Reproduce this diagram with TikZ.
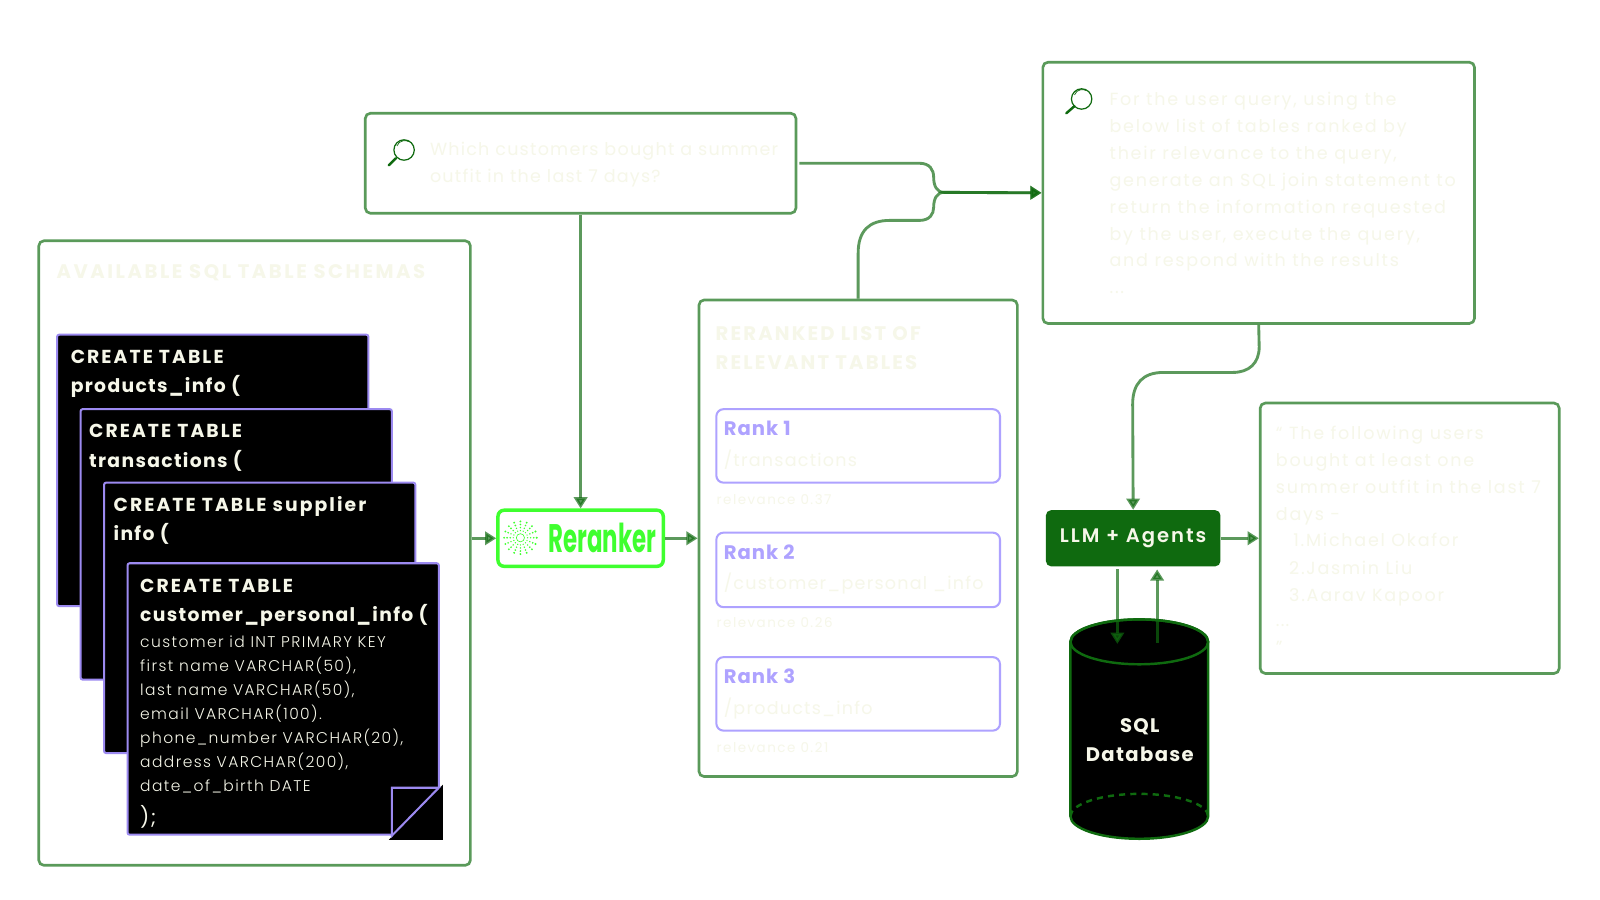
\documentclass[tikz,border=0pt]{standalone}
\usepackage{fontspec}
\usepackage{graphicx}
\usetikzlibrary{arrows.meta,fit,calc}
\newfontfamily\hdf[LetterSpace=11]{Poppins}
\newfontfamily\ttlf[LetterSpace=13]{Poppins}
\newfontfamily\lowf[LetterSpace=7]{Poppins}
\newfontfamily\rkf[LetterSpace=5]{Poppins}
\newfontfamily\bdf[LetterSpace=7]{Poppins}
\newfontfamily\prf[LetterSpace=10]{Poppins}
\newfontfamily\cdf[LetterSpace=9]{Poppins Light}
\newfontfamily\smf[LetterSpace=11]{Poppins}
\newfontfamily\medf[LetterSpace=10]{Poppins SemiBold}
\newfontfamily\plf{Poppins}
\definecolor{flow}{HTML}{0F6A0F}
\definecolor{boxgreen}{HTML}{5A9A5A}
\definecolor{ivory}{HTML}{F6F7E9}
\definecolor{cardedge}{HTML}{9C8AF0}
\definecolor{rankedge}{HTML}{AEA2FF}
\definecolor{neon}{HTML}{3FFF2F}
\tikzset{
  gbox/.style={draw=boxgreen,line width=1.3pt,rounded corners=2.5pt,inner sep=0pt,fill=white},
  rankbox/.style={draw=rankedge,line width=1pt,rounded corners=3.5pt,inner sep=0pt,fill=white},
  card/.style={draw=cardedge,line width=1pt,rounded corners=1pt,inner sep=0pt,fill=black},
  txt/.style={anchor=base west,inner sep=0pt,align=left},
  hcard/.style={txt,text=ivory,font={\hdf\bfseries\fontsize{9.2}{14.4}\selectfont}},
  bcard/.style={txt,text=ivory,font={\cdf\fontsize{7.6}{11.8}\selectfont}},
  ghosthead/.style={txt,text=ivory,font={\hdf\bfseries\fontsize{9.6}{14.4}\selectfont}},
  ghost/.style={txt,text=ivory,font={\bdf\fontsize{8.6}{13.2}\selectfont}},
  ghostwide/.style={txt,text=ivory,font={\prf\fontsize{8.6}{13.2}\selectfont}},
  ghostsmall/.style={txt,text=ivory,font={\smf\fontsize{6.6}{8}\selectfont}},
  ranklab/.style={txt,text=rankedge,font={\rkf\bfseries\fontsize{9.6}{12}\selectfont}},
  flowline/.style={draw=flow,line width=1.4pt,draw opacity=.68,fill opacity=.68,
    -{Triangle[length=5.5pt,width=6.5pt]}},
  lens/.style={draw=flow,line width=.6pt},
  lenshandle/.style={draw=flow,line width=1.2pt,line cap=round},
  dbline/.style={draw=flow,line width=1.2pt},
}
\begin{document}
\begin{tikzpicture}[x=.5pt,y=-.5pt]
\useasboundingbox[fill=white] (0,0) rectangle (1568,882);

% main boxes
\node[gbox,fit={(38,236)(461,848)}] (schemas) {};
\node[gbox,fit={(358,111)(780,209)}] (query) {};
\node[gbox,fit={(1022,61)(1445,317)}] (prompt) {};
\node[gbox,fit={(685,294)(997,761)}] (ranked) {};
\node[gbox,fit={(1235,395)(1528,660)}] (result) {};
\node[draw=neon,line width=1.7pt,rounded corners=3pt,inner sep=0pt,fill=white,fit={(488,500)(650,555)}] (rerank) {};
\node[fill=flow,rounded corners=2.5pt,inner sep=0pt,fit={(1025,500)(1196,555)}] (llm) {};

% schema title
\node[ghosthead,font={\ttlf\bfseries\fontsize{9.6}{14.4}\selectfont}] (schematitle) at (55,273) {AVAILABLE SQL TABLE SCHEMAS};

% cards
\node[card,fit={(56,328)(361,594)}] (card1) {};
\node[hcard] (card1t) at (69,385) {CREATE TABLE\\{\lowf products\_info (}};
\node[card,fit={(79,401)(384,666)}] (card2) {};
\node[hcard] (card2t) at (87,458) {CREATE TABLE\\{\lowf transactions (}};
\node[card,fit={(102,473)(407,738)}] (card3) {};
\node[hcard] (card3t) at (111,530) {CREATE TABLE supplier\\{\lowf info (}};
\node[card,fit={(125,552)(430,818)}] (card4) {};
\node[hcard] (card4t) at (137,609) {CREATE TABLE\\{\lowf customer\_personal\_info (}};
\node[bcard] (card4b) at (137,776) {customer id INT PRIMARY KEY\\first name VARCHAR(50),\\last name VARCHAR(50),\\email VARCHAR(100).\\phone\_number VARCHAR(20),\\address VARCHAR(200),\\date\_of\_birth DATE};
\node[txt,text=ivory,font={\bdf\fontsize{10}{12}\selectfont}] (card4e) at (137,808) {);};
% page fold
\fill[black] (434,769) -- (434,823) -- (381,823) -- cycle;
\draw[draw=cardedge,line width=1pt,line join=miter] (430,772) -- (384,772) -- (384,819) -- cycle;

% query
\node[ghost] (querytext) at (421,179) {Which customers bought a summer\\outfit in the last 7 days?};
\draw[lens] (396,147) circle[radius=10];
\draw[lens,line width=.35pt] (389,143) arc[start angle=200,end angle=300,radius=8];
\draw[lenshandle] (388,155) -- (381,162);

% prompt
\node[ghostwide] (prompttext) at (1087,288) {For the user query, using the\\below list of tables ranked by\\their relevance to the query,\\generate an SQL join statement to\\return the information requested\\by the user, execute the query,\\and respond with the results\\...};
\draw[lens] (1060,97) circle[radius=10];
\draw[lens,line width=.35pt] (1053,93) arc[start angle=200,end angle=300,radius=8];
\draw[lenshandle] (1053,104) -- (1045,111);

% reranked list
\node[ghosthead] (rankedtitle) at (701,362) {RERANKED LIST OF\\RELEVANT TABLES};
\node[rankbox,fit={(702,401)(980,473)}] (r1) {};
\node[rankbox,fit={(702,522)(980,595)}] (r2) {};
\node[rankbox,fit={(702,644)(980,716)}] (r3) {};
\node[ranklab] (r1l) at (709,427) {Rank 1};
\node[ghost] (r1p) at (709,457) {/transactions};
\node[ghostsmall] (r1s) at (702,494) {relevance 0.37};
\node[ranklab] (r2l) at (709,548) {Rank 2};
\node[ghost] (r2p) at (709,578) {/customer\_personal \_info};
\node[ghostsmall] (r2s) at (702,615) {relevance 0.26};
\node[ranklab] (r3l) at (709,670) {Rank 3};
\node[ghost] (r3p) at (709,700) {/products\_info};
\node[ghostsmall] (r3s) at (702,737) {relevance 0.21};

% result
\node[ghostwide] (res1) at (1250,510) {“ The following users\\bought at least one\\summer outfit in the last 7\\days -};
\node[ghostwide] (res2) at (1267,536) {1.Michael Okafor};
\node[ghostwide] (res3) at (1263,589) {2.Jasmin Liu\\3.Aarav Kapoor};
\node[ghost] (res4) at (1250,614) {...};
\node[ghost] (res5) at (1250,640) {”};

% reranker label and icon
\foreach \a in {0,22.5,...,337.5}{
  \foreach \r/\s in {7/.7,10/.8,13/.9,16/1}{
    \fill[neon] ($(510,527)+(\a:\r)$) circle[radius=\s];
  }
}
\draw[neon,line width=.3pt] (510,527) circle[radius=4];
\node[anchor=base west,inner sep=0pt,text=neon] (reranktext) at (537,541) {\scalebox{.575}[1]{\plf\bfseries\fontsize{19.5}{22}\selectfont Reranker}};

% llm
\node[inner sep=0pt,text=ivory,font={\medf\fontsize{9.6}{12}\selectfont}] (llmtext) at (1110.5,528) {LLM + Agents};

% database
\path[fill=black,draw=flow,line width=1.2pt] (1049,629) -- (1049,800) arc[start angle=180,end angle=0,x radius=67.5,y radius=22] -- (1184,629) arc[start angle=0,end angle=-180,x radius=67.5,y radius=22] -- cycle;
\draw[dbline] (1116.5,629) ellipse[x radius=67.5,y radius=22];
\draw[dbline,dashed,dash pattern=on 3pt off 2.5pt] (1049,800) arc[start angle=180,end angle=360,x radius=67.5,y radius=22];
\node[anchor=center,align=center,inner sep=0pt,text=ivory,font={\lowf\bfseries\fontsize{9.6}{14.4}\selectfont}] (dbtext) at (1117,725) {SQL\\Database};

% connectors
\coordinate (merge) at (925,188.5);
\coordinate (llmout) at (1095,558);
\coordinate (llmin) at (1134,558);
\coordinate (dbin) at (1095,631);
\coordinate (dbout) at (1134,630);
\draw[flowline] (query.south) -- (rerank.north);
\draw[flowline] (schemas.east |- rerank.west) -- (rerank.west);
\draw[flowline] (rerank.east) -- (ranked.west);
\draw[flowline] (llm.east) -- (result.west);
\draw[flowline] ([xshift=1pt]query.east) -- (901,160) .. controls (911,160) and (915,166) .. (915,174) .. controls (915,182) and (918,188.5) .. (merge) -- (prompt.west);
\draw[flowline] (ranked.north) -- (841,248) .. controls (841,226) and (852,216) .. (872,216) -- (901,216) .. controls (911,216) and (915,210) .. (915,203) .. controls (915,195) and (918,188.5) .. (merge) -- (prompt.west);
\draw[flowline] (prompt.south) -- (1234,340) .. controls (1234,356) and (1224,365) .. (1208,365) -- (1140,365) .. controls (1120,365) and (1110,376) .. (1110,396) -- (llm.north);
\draw[flowline] (llmout) -- (dbin);
\draw[flowline] (dbout) -- (llmin);
\end{tikzpicture}
\end{document}
